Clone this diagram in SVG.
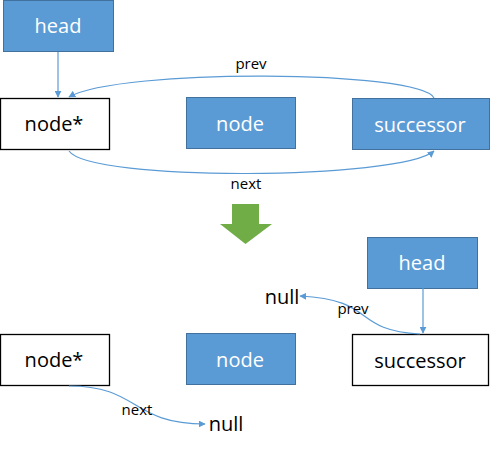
<svg xmlns="http://www.w3.org/2000/svg" width="490" height="452" viewBox="0 0 490 452">
<defs>
<marker id="ah" viewBox="0 0 10 10" refX="9" refY="5" markerWidth="7" markerHeight="7" markerUnits="userSpaceOnUse" orient="auto">
<path d="M0,0 L10,5 L0,10 z" fill="#5B9BD5"/>
</marker>
<style>
.blue{fill:#5B9BD5;stroke:#41719C;stroke-width:1}
.white{fill:#ffffff;stroke:#000000;stroke-width:1.3}
.tw{font-family:"Open Sans","Noto Sans","DejaVu Sans",sans-serif;font-size:20px;fill:#ffffff;text-anchor:middle}
.tb{font-family:"Open Sans","Noto Sans","DejaVu Sans",sans-serif;font-size:20px;fill:#000000;text-anchor:middle}
.lbl{font-family:"Open Sans","Noto Sans","DejaVu Sans",sans-serif;font-size:15px;fill:#000000;text-anchor:middle}
.conn{fill:none;stroke:#5B9BD5;stroke-width:1.2;marker-end:url(#ah)}
</style>
</defs>
<rect width="490" height="452" fill="#ffffff"/>
<g id="head1"><rect class="blue" x="3.5" y="0.5" width="110" height="51"/><text class="tw" x="58" y="33">head</text></g>
<g id="nodestar1"><rect class="white" x="0.5" y="98.5" width="109" height="51"/><text class="tb" x="54" y="131">node*</text></g>
<g id="node1"><rect class="blue" x="186.5" y="97.5" width="109" height="51"/><text class="tw" x="240" y="131">node</text></g>
<g id="successor1"><rect class="blue" x="352.5" y="98.5" width="137" height="51"/><text class="tw" x="420" y="132">successor</text></g>
<g id="arrow"><polygon points="232,204 259,204 259,224 272,224 245.5,244 220,224 232,224" fill="#70AD47"/></g>
<g id="head2"><rect class="blue" x="367.5" y="237.5" width="110" height="51"/><text class="tw" x="422" y="270">head</text></g>
<g id="null1"><text class="tb" x="282" y="304">null</text></g>
<g id="nodestar2"><rect class="white" x="0.5" y="334.5" width="109" height="51"/><text class="tb" x="54" y="367">node*</text></g>
<g id="node2"><rect class="blue" x="186.5" y="333.5" width="109" height="51"/><text class="tw" x="240" y="367">node</text></g>
<g id="successor2"><rect class="white" x="352.5" y="334.5" width="136" height="51"/><text class="tb" x="420" y="368">successor</text></g>
<g id="null2"><text class="tb" x="226" y="431">null</text></g>
<g id="connectors">
<path class="conn" d="M434,98 C420,70 120,68 69,97"/>
<path class="conn" d="M58,52 L58,97"/>
<path class="conn" d="M69,151 C90,182 400,180 434,151"/>
<path class="conn" d="M423,288 L423,333"/>
<path class="conn" d="M420,334 C350,330 378,300 300,296"/>
<path class="conn" d="M69,386 C140,386 130,424 205,424"/>
</g>
<g id="labels">
<text class="lbl" x="251" y="69">prev</text>
<text class="lbl" x="246" y="189">next</text>
<text class="lbl" x="353" y="314">prev</text>
<text class="lbl" x="137" y="415">next</text>
</g>
</svg>
